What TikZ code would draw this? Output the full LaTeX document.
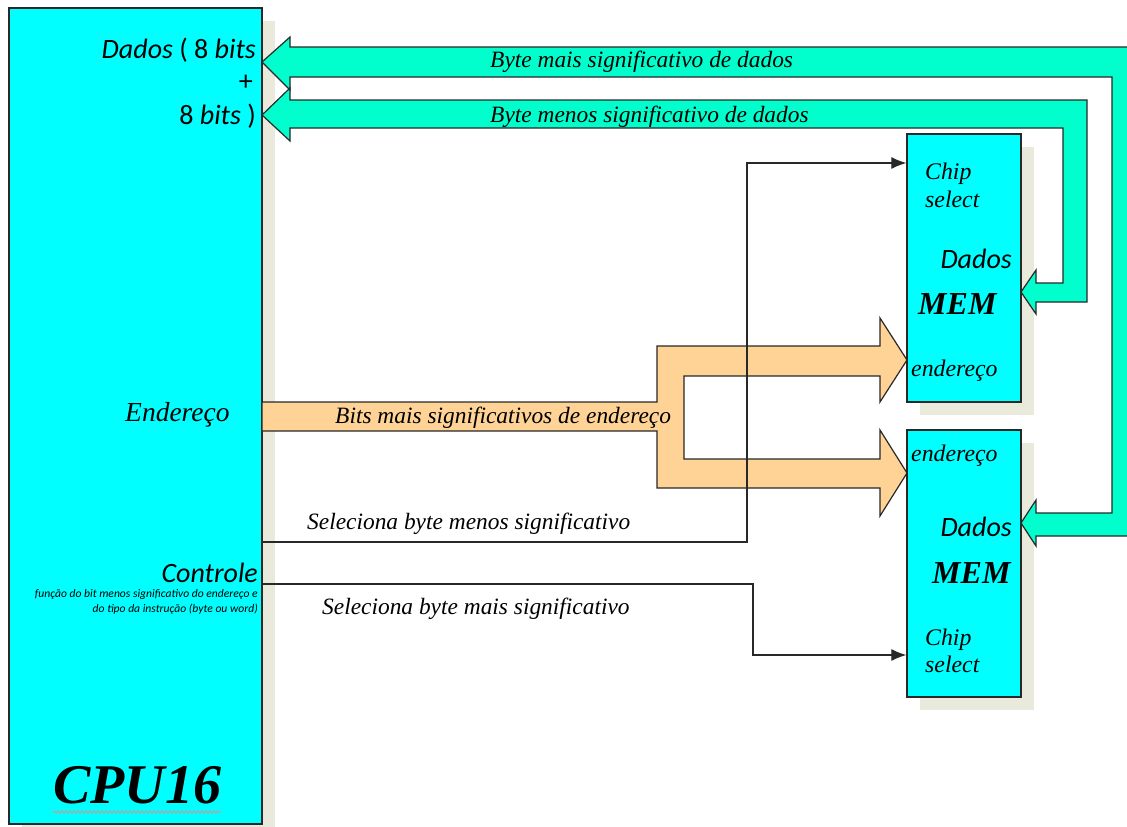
\documentclass[tikz,border=0pt]{standalone}
\usepackage{fontspec}
\setmainfont{Liberation Serif}
\newfontfamily\carlito{Carlito}
\usetikzlibrary{arrows.meta,shadows,decorations.pathmorphing}

\definecolor{boxcyan}{RGB}{0,255,255}
\definecolor{busgreen}{RGB}{0,255,204}
\definecolor{busorange}{RGB}{255,211,150}
\definecolor{shadowgray}{RGB}{233,233,220}
\definecolor{edgegray}{RGB}{40,40,40}
\definecolor{spellred}{RGB}{230,140,140}

\newcommand{\fsz}[1]{\fontsize{#1}{#1}\selectfont}

\begin{document}
\begin{tikzpicture}[x=1pt,y=-1pt,
  chip/.style={draw=edgegray, line width=1.3pt, fill=boxcyan, inner sep=0pt,
    drop shadow={shadow xshift=13pt, shadow yshift=-13pt, fill=shadowgray, opacity=1}},
  bus/.style={draw=edgegray, line width=1.2pt, line join=miter},
  wire/.style={draw=edgegray, line width=1.2pt},
  tip/.style={-{Latex[length=15pt,width=12pt]}},
  lbl/.style={inner sep=0pt, font=\fsz{23.4}\itshape},
  port/.style={inner sep=0pt, font=\fsz{23.8}\itshape},
  sans/.style={inner sep=0pt, font=\fsz{28}\carlito\itshape},
]
\useasboundingbox (0,0) rectangle (1127,827);

% processor and the two memory chips
\node[chip, minimum width=253pt, minimum height=816pt] (cpu) at (135.5,416) {};
\node[chip, minimum width=114pt, minimum height=268pt] (mem1) at (964,268) {};
\node[chip, minimum width=114pt, minimum height=267pt] (mem2) at (964,563.5) {};

% data buses (the outer one runs past the right border)
\begin{scope}
\clip (0,0) rectangle (1127,827);
\draw[bus, fill=busgreen]
  (262,62) -- (290,37) -- (290,47) -- (1145,47) -- (1145,536) -- (1036,536)
  -- (1036,546) -- (1021,523) -- (1036,500) -- (1036,513) -- (1112,513)
  -- (1112,77) -- (290,77) -- (290,90) -- cycle;
\end{scope}
\draw[bus, fill=busgreen]
  (262,115) -- (290,88) -- (290,100) -- (1087,100) -- (1087,302) -- (1036,302)
  -- (1036,314) -- (1021,292) -- (1036,270) -- (1036,283) -- (1063,283)
  -- (1063,128) -- (290,128) -- (290,141) -- cycle;

% address bus, split towards both chips
\draw[bus, fill=busorange]
  (262,402) -- (657,402) -- (657,346) -- (880,346) -- (880,318) -- (907,360)
  -- (880,402) -- (880,376) -- (684,376) -- (684,459) -- (880,459) -- (880,430)
  -- (907,473) -- (880,516) -- (880,488) -- (657,488) -- (657,431) -- (262,431)
  -- cycle;

% chip select lines
\coordinate (loOut) at (262,542);
\coordinate (loBend) at (747,163);
\coordinate (hiOut) at (262,584);
\coordinate (hiBend) at (753,655);
\draw[wire, tip] (loOut) -| (loBend) -- (mem1.west |- loBend);
\draw[wire, tip] (hiOut) -| (hiBend) -- (mem2.west |- hiBend);

% processor labels
\node[inner sep=0pt, anchor=base east, font=\fsz{28}\carlito] (cpuData1) at (256,58)
  {\itshape Dados\upshape{} ( 8 \itshape bits};
\node[inner sep=0pt, anchor=base east, font=\fsz{28}\carlito] (cpuPlus) at (253,90) {+};
\node[inner sep=0pt, anchor=base east, font=\fsz{28}\carlito] (cpuData2) at (256,124)
  {8 \itshape bits\upshape{} )};
\node[inner sep=0pt, anchor=base west, font=\fsz{27.5}\itshape] (cpuAddr) at (125,421) {Endereço};
\node[sans, anchor=base east] (cpuCtl) at (258,582) {Controle};
\node[inner sep=0pt, anchor=base east, font=\fsz{11.6}\carlito\itshape] (cpuNote1) at (258,597)
  {função do bit menos significativo do endereço e};
\node[inner sep=0pt, anchor=base east, font=\fsz{11.6}\carlito\itshape] (cpuNote2) at (258,612)
  {do tipo da instrução (byte ou word)};
\node[inner sep=0pt, font=\fsz{56}\bfseries\itshape] (cpuName) at (137,785) {CPU16};
\draw[spellred, line width=0.8pt, decorate,
  decoration={snake, amplitude=1.2pt, segment length=4pt}]
  (cpuName.south west |- 0,812) -- (cpuName.south east |- 0,812);

% bus and line labels
\node[lbl, anchor=base west] (busHi) at (490,67) {Byte mais significativo de dados};
\node[lbl, anchor=base west] (busLo) at (490,122) {Byte menos significativo de dados};
\node[lbl, anchor=base west] (busAddr) at (335,423) {Bits mais significativos de endereço};
\node[lbl, anchor=base west] (selLo) at (307,529) {Seleciona byte menos significativo};
\node[lbl, anchor=base west] (selHi) at (322,614) {Seleciona byte mais significativo};

% upper memory chip
\node[port, anchor=base west] (m1cs1) at (925,179) {Chip};
\node[port, anchor=base west] (m1cs2) at (925,207) {select};
\node[sans, anchor=base east] (m1data) at (1012,268) {Dados};
\node[inner sep=0pt, anchor=base west, font=\fsz{32}\bfseries\itshape] (m1name) at (918,314) {MEM};
\node[port, anchor=base west] (m1addr) at (911,376) {endereço};

% lower memory chip
\node[port, anchor=base west] (m2addr) at (911,461) {endereço};
\node[sans, anchor=base east] (m2data) at (1012,536) {Dados};
\node[inner sep=0pt, anchor=base west, font=\fsz{32}\bfseries\itshape] (m2name) at (932,583) {MEM};
\node[port, anchor=base west] (m2cs1) at (925,645) {Chip};
\node[port, anchor=base west] (m2cs2) at (925,672) {select};
\end{tikzpicture}
\end{document}
